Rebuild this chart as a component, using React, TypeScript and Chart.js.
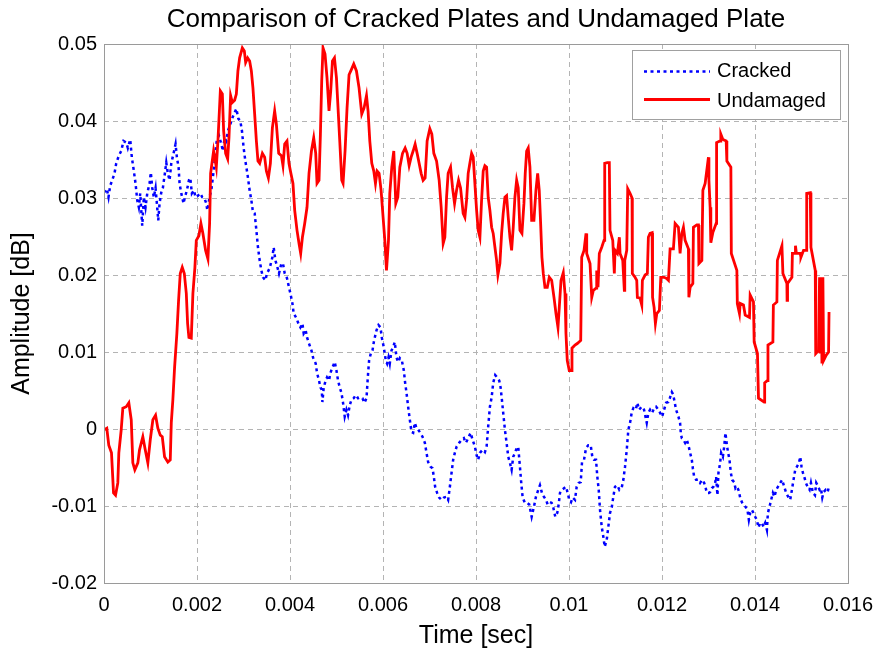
import React, { useEffect, useRef } from "react";
import { Chart, registerables } from "chart.js";

Chart.register(...registerables);

const chartTitle = "Comparison of Cracked Plates and Undamaged Plate";
const xAxisTitle = "Time [sec]";
const yAxisTitle = "Amplitude [dB]";
const seriesNames = ["Cracked", "Undamaged"];
const xTickLabels = ["0", "0.002", "0.004", "0.006", "0.008", "0.01", "0.012", "0.014", "0.016"];
const yTickLabels = ["-0.02", "-0.01", "0", "0.01", "0.02", "0.03", "0.04", "0.05"];

// [time (s), amplitude]
const crackedData: [number, number][] = [
  [0, 0.0307], [0.00006, 0.0312], [0.000097, 0.0301], [0.000133, 0.0316], [0.000177, 0.0323],
  [0.000226, 0.0332], [0.000263, 0.0345], [0.000319, 0.0355], [0.00037, 0.0361], [0.00042, 0.0374],
  [0.000478, 0.0372], [0.000512, 0.0365], [0.000564, 0.0376], [0.000598, 0.0353], [0.000635, 0.0338],
  [0.000678, 0.0319], [0.000715, 0.0297], [0.000749, 0.0288], [0.000779, 0.0306], [0.000822, 0.0264],
  [0.000857, 0.0301], [0.000893, 0.0288], [0.00093, 0.0306], [0.00098, 0.0319], [0.001007, 0.0333],
  [0.001038, 0.0313], [0.001072, 0.0301], [0.001109, 0.0313], [0.001137, 0.0293], [0.001167, 0.0271],
  [0.001195, 0.0293], [0.001231, 0.0307], [0.001266, 0.0313], [0.001309, 0.0332], [0.001339, 0.0346],
  [0.001373, 0.0332], [0.00141, 0.0323], [0.001447, 0.0345], [0.001496, 0.0358], [0.001539, 0.037],
  [0.001567, 0.0353], [0.001604, 0.034], [0.001625, 0.0319], [0.001662, 0.0306], [0.001711, 0.0293],
  [0.001739, 0.0301], [0.001783, 0.031], [0.001826, 0.0323], [0.001856, 0.0326], [0.00189, 0.0306],
  [0.001933, 0.031], [0.00197, 0.0301], [0.002019, 0.0303], [0.002071, 0.0306], [0.002114, 0.0301],
  [0.002157, 0.03], [0.0022, 0.0293], [0.002222, 0.0284], [0.002271, 0.0301], [0.002314, 0.0313],
  [0.002357, 0.0335], [0.0024, 0.0361], [0.002428, 0.0376], [0.002471, 0.0381], [0.002523, 0.037],
  [0.002558, 0.0361], [0.002594, 0.0378], [0.002631, 0.0374], [0.002665, 0.0387], [0.002717, 0.0396],
  [0.00276, 0.0404], [0.002809, 0.0411], [0.002846, 0.0416], [0.002889, 0.0403], [0.002932, 0.04],
  [0.002967, 0.0387], [0.003003, 0.0365], [0.00304, 0.0348], [0.003083, 0.0332], [0.003132, 0.031],
  [0.003169, 0.0297], [0.003203, 0.0282], [0.00324, 0.028], [0.003277, 0.0258], [0.003311, 0.0236],
  [0.003348, 0.0219], [0.003384, 0.0206], [0.003419, 0.0197], [0.00347, 0.0193], [0.003505, 0.0202],
  [0.003563, 0.0209], [0.003621, 0.0223], [0.003649, 0.0236], [0.003686, 0.0219], [0.003729, 0.021],
  [0.003763, 0.0202], [0.003815, 0.0215], [0.003849, 0.0215], [0.003886, 0.0202], [0.003935, 0.0196],
  [0.003978, 0.0184], [0.004009, 0.0176], [0.004052, 0.0163], [0.00408, 0.015], [0.004138, 0.0144],
  [0.004181, 0.0137], [0.004224, 0.0132], [0.004267, 0.0137], [0.004295, 0.0124], [0.004338, 0.0128],
  [0.004366, 0.0119], [0.004409, 0.0111], [0.004461, 0.0102], [0.004495, 0.0093], [0.004553, 0.0085],
  [0.004581, 0.0073], [0.004624, 0.0063], [0.004654, 0.0054], [0.004682, 0.0051], [0.004697, 0.0035],
  [0.004725, 0.0054], [0.004768, 0.0063], [0.004796, 0.0067], [0.004839, 0.0063], [0.00487, 0.0073],
  [0.004913, 0.008], [0.004962, 0.0087], [0.004999, 0.0076], [0.005033, 0.0063], [0.00507, 0.0054],
  [0.005106, 0.0047], [0.005141, 0.0034], [0.005177, 0.0016], [0.005214, 0.0025], [0.005248, 0.0018],
  [0.005285, 0.0031], [0.005322, 0.0038], [0.005371, 0.004], [0.005414, 0.0044], [0.005464, 0.004],
  [0.005515, 0.0041], [0.005558, 0.004], [0.005602, 0.0034], [0.005645, 0.004], [0.005673, 0.0067],
  [0.005701, 0.0089], [0.005737, 0.0098], [0.005774, 0.0102], [0.005808, 0.0115], [0.00586, 0.0128],
  [0.005903, 0.0135], [0.005946, 0.0132], [0.005974, 0.0119], [0.006017, 0.0106], [0.00606, 0.0089],
  [0.006088, 0.0085], [0.006118, 0.0093], [0.006146, 0.0085], [0.006183, 0.0102], [0.006217, 0.0106],
  [0.006254, 0.0113], [0.00629, 0.0093], [0.006325, 0.0087], [0.006362, 0.0092], [0.006405, 0.0089],
  [0.006448, 0.0076], [0.006476, 0.006], [0.006506, 0.0047], [0.00654, 0.0029], [0.006577, 0.0012],
  [0.006613, -0.0004], [0.006648, -0.0005], [0.006684, 0.0008], [0.006721, 0.0001], [0.006755, -0.0001],
  [0.006792, -0.0004], [0.00685, -0.001], [0.0069, -0.0018], [0.006936, -0.0031], [0.006971, -0.0043],
  [0.007022, -0.0049], [0.007065, -0.0051], [0.007093, -0.0062], [0.007121, -0.0075], [0.007164, -0.0083],
  [0.007208, -0.0089], [0.007259, -0.0092], [0.007309, -0.0089], [0.007367, -0.0088], [0.007401, -0.0092],
  [0.007438, -0.0075], [0.007474, -0.0057], [0.007509, -0.004], [0.007545, -0.0031], [0.007582, -0.0023],
  [0.007638, -0.0018], [0.00769, -0.0014], [0.007739, -0.0012], [0.007782, -0.0018], [0.007832, -0.0012],
  [0.007884, -0.0005], [0.007927, -0.0014], [0.007976, -0.0023], [0.008013, -0.0034], [0.008047, -0.004],
  [0.008084, -0.0031], [0.008142, -0.0027], [0.008191, -0.003], [0.008228, -0.0023], [0.008262, 0.0003],
  [0.008299, 0.0029], [0.008336, 0.0041], [0.00837, 0.006], [0.008413, 0.007], [0.008456, 0.0067],
  [0.008499, 0.0063], [0.008529, 0.0054], [0.008557, 0.0038], [0.008585, 0.0021], [0.008622, -0.0001],
  [0.008658, -0.0018], [0.008693, -0.0036], [0.00873, -0.0044], [0.008766, -0.0053], [0.008801, -0.0036],
  [0.008837, -0.0031], [0.008874, -0.0025], [0.008908, -0.0023], [0.008945, -0.0049], [0.008973, -0.007],
  [0.009003, -0.0089], [0.009052, -0.0096], [0.009102, -0.0096], [0.009145, -0.0098], [0.009197, -0.0114],
  [0.009246, -0.0101], [0.009289, -0.0088], [0.009339, -0.0079], [0.009375, -0.0073], [0.009418, -0.0083],
  [0.009461, -0.0088], [0.009505, -0.0092], [0.009541, -0.0098], [0.009591, -0.0095], [0.009627, -0.0096],
  [0.009662, -0.0102], [0.009705, -0.0114], [0.009748, -0.0109], [0.009778, -0.0098], [0.009806, -0.0083],
  [0.009849, -0.0079], [0.009892, -0.0077], [0.009935, -0.0075], [0.009972, -0.0083], [0.010006, -0.0092],
  [0.010043, -0.0095], [0.010079, -0.0089], [0.010129, -0.0092], [0.010165, -0.0075], [0.010208, -0.007],
  [0.010252, -0.0069], [0.01028, -0.0043], [0.010323, -0.004], [0.010366, -0.0025], [0.010415, -0.0021],
  [0.010467, -0.0021], [0.010501, -0.0036], [0.010538, -0.004], [0.010581, -0.004], [0.010609, -0.0062],
  [0.010639, -0.0079], [0.010667, -0.0105], [0.010704, -0.0127], [0.010738, -0.014], [0.010768, -0.0153],
  [0.010811, -0.0144], [0.010846, -0.0127], [0.010882, -0.0109], [0.010919, -0.0102], [0.010953, -0.0088],
  [0.01099, -0.0075], [0.01104, -0.0073], [0.011083, -0.0079], [0.011134, -0.0076], [0.011169, -0.0066],
  [0.011205, -0.0049], [0.011242, -0.0027], [0.011276, -0.0001], [0.011313, 0.0008], [0.01135, 0.0022],
  [0.011384, 0.0027], [0.011436, 0.0025], [0.01147, 0.0034], [0.011507, 0.0025], [0.011565, 0.0029],
  [0.011614, 0.0025], [0.011672, 0.0008], [0.011707, 0.0021], [0.011743, 0.0025], [0.011787, 0.0021],
  [0.01183, 0.0027], [0.011873, 0.0029], [0.011922, 0.0025], [0.011959, 0.0021], [0.012002, 0.0016],
  [0.012045, 0.0025], [0.012088, 0.0034], [0.012138, 0.0035], [0.012174, 0.0041], [0.012211, 0.0048],
  [0.012239, 0.0045], [0.012275, 0.0034], [0.012303, 0.0025], [0.012353, 0.0016], [0.012389, 0.0008],
  [0.012404, -0.0005], [0.012426, -0.0012], [0.012461, -0.0014], [0.012497, -0.0018], [0.012534, -0.0014],
  [0.012568, -0.0021], [0.012605, -0.0031], [0.012641, -0.004], [0.012663, -0.0051], [0.012691, -0.0062],
  [0.012734, -0.0066], [0.012784, -0.0066], [0.01282, -0.007], [0.012863, -0.0066], [0.012906, -0.007],
  [0.012934, -0.0075], [0.012964, -0.0083], [0.013007, -0.0083], [0.013035, -0.0082], [0.013072, -0.0077],
  [0.013106, -0.0075], [0.013143, -0.007], [0.013164, -0.0062], [0.013192, -0.0086], [0.013214, -0.0057],
  [0.01325, -0.0044], [0.013272, -0.0031], [0.013309, -0.0036], [0.013337, -0.0023], [0.013365, -0.0005],
  [0.013395, -0.0021], [0.013423, -0.0031], [0.013451, -0.004], [0.013481, -0.0057], [0.013509, -0.0066],
  [0.013552, -0.0069], [0.01358, -0.0077], [0.01361, -0.0075], [0.013644, -0.0079], [0.013681, -0.0089],
  [0.013718, -0.0095], [0.013752, -0.0098], [0.013795, -0.0101], [0.013838, -0.0105], [0.013868, -0.0118],
  [0.013896, -0.0109], [0.013932, -0.0105], [0.013967, -0.0109], [0.014004, -0.0114], [0.01404, -0.0118],
  [0.014075, -0.0128], [0.014111, -0.0122], [0.014148, -0.0122], [0.014183, -0.0127], [0.014219, -0.0122],
  [0.014256, -0.0131], [0.014277, -0.0109], [0.014312, -0.0101], [0.014348, -0.0092], [0.014385, -0.0083],
  [0.014419, -0.0088], [0.014456, -0.0079], [0.014493, -0.0075], [0.014542, -0.007], [0.014585, -0.0066],
  [0.014628, -0.0075], [0.014671, -0.0083], [0.014714, -0.0088], [0.014757, -0.0092], [0.014794, -0.0079],
  [0.014828, -0.0066], [0.014865, -0.0053], [0.014902, -0.0049], [0.014945, -0.0044], [0.014973, -0.0036],
  [0.015001, -0.0049], [0.015031, -0.0057], [0.015059, -0.0062], [0.015095, -0.007], [0.01513, -0.0075],
  [0.015173, -0.0079], [0.015203, -0.007], [0.015246, -0.0083], [0.015289, -0.0086], [0.015317, -0.007],
  [0.01536, -0.0075], [0.015388, -0.0079], [0.015418, -0.0077], [0.015447, -0.0089], [0.015475, -0.0082],
  [0.015518, -0.0079], [0.015561, -0.0082], [0.015591, -0.0075],
];

const undamagedData: [number, number][] = [
  [0, -0.0001], [0.00006, 0.0001], [0.000103, -0.0021], [0.000161, -0.0031], [0.000205, -0.0083],
  [0.000248, -0.0086], [0.000297, -0.007], [0.000319, -0.0031], [0.00037, -0.0001], [0.000405, 0.0027],
  [0.000478, 0.0029], [0.000534, 0.0034], [0.000586, 0.0012], [0.00062, -0.0044], [0.000663, -0.0053],
  [0.000728, -0.0044], [0.000764, -0.0027], [0.000835, -0.001], [0.000887, -0.0027], [0.000943, -0.0044],
  [0.000995, -0.0014], [0.001051, 0.0012], [0.001109, 0.0018], [0.001158, 0.0001], [0.00121, -0.0008],
  [0.001253, -0.001], [0.001302, -0.0036], [0.001373, -0.0043], [0.001425, -0.004], [0.001447, 0.0008],
  [0.001481, 0.0038], [0.001518, 0.008], [0.001567, 0.0124], [0.001604, 0.0167], [0.00164, 0.0202],
  [0.001683, 0.021], [0.001727, 0.0202], [0.00177, 0.0176], [0.001798, 0.0137], [0.001826, 0.0119],
  [0.001877, 0.0118], [0.001912, 0.0176], [0.001955, 0.021], [0.001985, 0.0245], [0.002041, 0.0251],
  [0.002084, 0.0267], [0.002127, 0.0254], [0.002185, 0.0232], [0.002235, 0.0221], [0.002271, 0.0267],
  [0.002293, 0.0332], [0.002357, 0.0361], [0.002415, 0.034], [0.00245, 0.0374], [0.002502, 0.0439],
  [0.002545, 0.0435], [0.002573, 0.0387], [0.002616, 0.0358], [0.002659, 0.0351], [0.002687, 0.0378],
  [0.002723, 0.0433], [0.00276, 0.0424], [0.002809, 0.0427], [0.002846, 0.0435], [0.00288, 0.0465],
  [0.002917, 0.0482], [0.002975, 0.0495], [0.003018, 0.0491], [0.003046, 0.0476], [0.003089, 0.0482],
  [0.003132, 0.0478], [0.003169, 0.0465], [0.003203, 0.0443], [0.00324, 0.0409], [0.003277, 0.0374],
  [0.003311, 0.0348], [0.003348, 0.0345], [0.003406, 0.0358], [0.003455, 0.0353], [0.003492, 0.0335],
  [0.003535, 0.0326], [0.003578, 0.0345], [0.003621, 0.0391], [0.00367, 0.0413], [0.003707, 0.0396],
  [0.003757, 0.0358], [0.003815, 0.0355], [0.003849, 0.0342], [0.003886, 0.037], [0.003935, 0.0374],
  [0.003978, 0.0345], [0.004009, 0.0335], [0.004064, 0.0319], [0.004101, 0.0284], [0.004151, 0.0258],
  [0.004194, 0.0241], [0.00423, 0.0228], [0.004267, 0.0249], [0.004316, 0.0267], [0.004366, 0.0288],
  [0.004409, 0.0332], [0.004461, 0.0361], [0.00451, 0.0378], [0.004553, 0.0358], [0.004581, 0.0319],
  [0.004624, 0.0323], [0.004654, 0.0383], [0.004682, 0.0452], [0.00471, 0.0495], [0.004753, 0.0487],
  [0.004796, 0.0456], [0.004839, 0.0413], [0.004876, 0.0439], [0.004913, 0.0478], [0.004956, 0.0482],
  [0.004999, 0.0456], [0.005033, 0.0417], [0.00507, 0.0374], [0.005113, 0.0323], [0.005141, 0.0319],
  [0.005184, 0.0361], [0.005227, 0.0417], [0.00527, 0.046], [0.005322, 0.0467], [0.005371, 0.0474],
  [0.005429, 0.0465], [0.005485, 0.0443], [0.005543, 0.0409], [0.005593, 0.0417], [0.005645, 0.0433],
  [0.005679, 0.0413], [0.005716, 0.0374], [0.005759, 0.0345], [0.005802, 0.0335], [0.005838, 0.0319],
  [0.005873, 0.0335], [0.005916, 0.0332], [0.005959, 0.031], [0.006002, 0.0275], [0.006039, 0.0245],
  [0.006075, 0.0206], [0.006118, 0.0245], [0.006146, 0.0306], [0.006189, 0.034], [0.006232, 0.0361],
  [0.006275, 0.0293], [0.006318, 0.0301], [0.006362, 0.034], [0.00642, 0.0358], [0.006476, 0.0365],
  [0.006519, 0.0358], [0.006562, 0.0342], [0.006605, 0.0353], [0.006648, 0.0361], [0.006691, 0.037],
  [0.006734, 0.0358], [0.006777, 0.0345], [0.00682, 0.0332], [0.006863, 0.0323], [0.006906, 0.0326],
  [0.006949, 0.0374], [0.007007, 0.039], [0.00705, 0.0383], [0.007093, 0.0358], [0.007152, 0.0348],
  [0.007208, 0.0323], [0.007251, 0.0288], [0.007294, 0.0241], [0.00733, 0.0249], [0.007367, 0.0301],
  [0.007401, 0.0332], [0.007453, 0.034], [0.007496, 0.0313], [0.007539, 0.0293], [0.007582, 0.031],
  [0.007625, 0.0323], [0.007668, 0.0313], [0.007724, 0.028], [0.007761, 0.0275], [0.007797, 0.0297],
  [0.007832, 0.0332], [0.007868, 0.0345], [0.007905, 0.0358], [0.00794, 0.0353], [0.007976, 0.0319],
  [0.008013, 0.0284], [0.008047, 0.0258], [0.008084, 0.0249], [0.00812, 0.0297], [0.008155, 0.0335],
  [0.008191, 0.0342], [0.008228, 0.034], [0.008262, 0.0301], [0.008299, 0.0284], [0.008336, 0.0262],
  [0.00837, 0.0254], [0.008407, 0.0236], [0.008443, 0.0219], [0.008471, 0.02], [0.008514, 0.0215],
  [0.008551, 0.0254], [0.008585, 0.028], [0.008622, 0.0301], [0.008658, 0.0303], [0.008693, 0.0275],
  [0.00873, 0.0249], [0.008766, 0.0232], [0.008801, 0.0262], [0.008837, 0.0301], [0.008874, 0.0323],
  [0.008908, 0.0313], [0.008945, 0.0258], [0.008988, 0.0254], [0.009031, 0.0293], [0.009059, 0.0332],
  [0.009089, 0.0361], [0.009123, 0.0365], [0.00916, 0.034], [0.009197, 0.0271], [0.009246, 0.0271],
  [0.009289, 0.031], [0.009326, 0.0332], [0.00936, 0.031], [0.00939, 0.0267], [0.009418, 0.0223],
  [0.009447, 0.0202], [0.009483, 0.0184], [0.009533, 0.0184], [0.009576, 0.0197], [0.009627, 0.0193],
  [0.009677, 0.0171], [0.00972, 0.015], [0.009763, 0.0132], [0.009791, 0.0158], [0.009828, 0.0193],
  [0.009877, 0.0203], [0.009914, 0.0176], [0.009935, 0.0124], [0.009963, 0.0089], [0.010006, 0.0076],
  [0.010058, 0.0076], [0.010064, 0.0105], [0.010129, 0.0109], [0.010178, 0.0111], [0.010252, 0.0115],
  [0.010273, 0.0223], [0.010323, 0.0232], [0.010366, 0.0254], [0.010381, 0.0228], [0.010452, 0.0215],
  [0.010489, 0.0171], [0.010523, 0.018], [0.010581, 0.0183], [0.010596, 0.0206], [0.010624, 0.0184],
  [0.010652, 0.0228], [0.010704, 0.0236], [0.010753, 0.0245], [0.010768, 0.0345], [0.010824, 0.0346],
  [0.010867, 0.0346], [0.010882, 0.0258], [0.010941, 0.0245], [0.010975, 0.0202], [0.01099, 0.0232],
  [0.01104, 0.0228], [0.011083, 0.0249], [0.011098, 0.0228], [0.011156, 0.0219], [0.01119, 0.018],
  [0.011199, 0.0219], [0.011242, 0.0232], [0.011263, 0.0312], [0.011313, 0.0306], [0.011356, 0.03],
  [0.011362, 0.0202], [0.01142, 0.0197], [0.011457, 0.0193], [0.01147, 0.0171], [0.011528, 0.017],
  [0.011565, 0.0161], [0.011578, 0.0193], [0.011636, 0.02], [0.011685, 0.0202], [0.011707, 0.0249],
  [0.011743, 0.0254], [0.011787, 0.0255], [0.011797, 0.0171], [0.01183, 0.0158], [0.011858, 0.0137],
  [0.011888, 0.015], [0.011944, 0.0154], [0.011974, 0.0197], [0.012045, 0.0197], [0.012088, 0.0196],
  [0.012138, 0.0193], [0.012174, 0.0234], [0.012245, 0.0234], [0.012282, 0.0267], [0.012353, 0.0262],
  [0.012389, 0.0228], [0.012426, 0.0254], [0.012461, 0.0262], [0.012497, 0.0245], [0.012568, 0.0234],
  [0.012578, 0.0171], [0.012605, 0.0184], [0.012663, 0.0189], [0.012676, 0.0262], [0.012749, 0.0265],
  [0.012784, 0.0265], [0.012794, 0.0215], [0.012857, 0.0219], [0.012879, 0.031], [0.012928, 0.0319],
  [0.012999, 0.0353], [0.013009, 0.0323], [0.013035, 0.0288], [0.01305, 0.0242], [0.013093, 0.0255],
  [0.013164, 0.0267], [0.013174, 0.0372], [0.01325, 0.0374], [0.013265, 0.0383], [0.013309, 0.0376],
  [0.01338, 0.0374], [0.013395, 0.0348], [0.013481, 0.034], [0.013491, 0.0228], [0.01361, 0.0206],
  [0.01362, 0.0163], [0.013666, 0.015], [0.013681, 0.0163], [0.013752, 0.0161], [0.013789, 0.0148],
  [0.013881, 0.0145], [0.013896, 0.0174], [0.013967, 0.0165], [0.013982, 0.0113], [0.014053, 0.0098],
  [0.014075, 0.004], [0.014198, 0.0035], [0.014208, 0.006], [0.014269, 0.0063], [0.014279, 0.0109],
  [0.014385, 0.0113], [0.014395, 0.0161], [0.014471, 0.0165], [0.014481, 0.0219], [0.014579, 0.0238],
  [0.0146, 0.0202], [0.014686, 0.0189], [0.01469, 0.0167], [0.0147, 0.0189], [0.014794, 0.0197],
  [0.014804, 0.0228], [0.014865, 0.0228], [0.01487, 0.0238], [0.01489, 0.0228], [0.014973, 0.0228],
  [0.014988, 0.0223], [0.015044, 0.0232], [0.015102, 0.0232], [0.015112, 0.0306], [0.015188, 0.0307],
  [0.015203, 0.0236], [0.015296, 0.0206], [0.015306, 0.0098], [0.015367, 0.0102], [0.015388, 0.0197],
  [0.0154, 0.0098], [0.01542, 0.0197], [0.01544, 0.0085], [0.01546, 0.0197], [0.015475, 0.0089],
  [0.015532, 0.0096], [0.015582, 0.01], [0.015592, 0.0152],
];

const FONT = "'Liberation Sans', Arial, Helvetica, sans-serif";
const CRACKED_COLOR = "#0000ff";
const UNDAMAGED_COLOR = "#ff0000";
const CRACKED_DASH = [3, 3.5];

const framePlugin = {
  id: "frameAndLegend",
  afterDraw(chart: any) {
    const { ctx, chartArea } = chart;
    const { left, top, right, bottom } = chartArea;
    ctx.save();

    // title, centred over the plot area
    ctx.fillStyle = "#000000";
    ctx.font = `26px ${FONT}`;
    ctx.textAlign = "center";
    ctx.textBaseline = "alphabetic";
    ctx.fillText(chartTitle, (left + right) / 2, top - 17);

    // axes box
    ctx.strokeStyle = "#9a9a9a";
    ctx.lineWidth = 1;
    ctx.setLineDash([]);
    ctx.strokeRect(Math.round(left) + 0.5, Math.round(top) + 0.5, Math.round(right - left), Math.round(bottom - top));

    // legend box
    const bw = 208;
    const bh = 69;
    const bx = Math.round(right) - 216;
    const by = Math.round(top) + 6;
    ctx.fillStyle = "#ffffff";
    ctx.fillRect(bx, by, bw, bh);
    ctx.strokeStyle = "#a0a0a0";
    ctx.strokeRect(bx + 0.5, by + 0.5, bw, bh);

    const lineX0 = bx + 12;
    const lineX1 = bx + 78;
    const row1 = by + 21.5;
    const row2 = by + 49.5;
    ctx.lineWidth = 2.5;
    ctx.strokeStyle = CRACKED_COLOR;
    ctx.setLineDash(CRACKED_DASH);
    ctx.beginPath();
    ctx.moveTo(lineX0, row1);
    ctx.lineTo(lineX1, row1);
    ctx.stroke();
    ctx.setLineDash([]);
    ctx.strokeStyle = UNDAMAGED_COLOR;
    ctx.lineWidth = 2.8;
    ctx.beginPath();
    ctx.moveTo(lineX0, row2);
    ctx.lineTo(lineX1, row2);
    ctx.stroke();

    ctx.fillStyle = "#000000";
    ctx.font = `20px ${FONT}`;
    ctx.textBaseline = "alphabetic";
    ctx.textAlign = "left";
    ctx.fillText(seriesNames[0], bx + 85, by + 27);
    ctx.fillText(seriesNames[1], bx + 85, by + 57);
    ctx.restore();
  },
};

export default function App() {
  const canvasRef = useRef<HTMLCanvasElement | null>(null);

  useEffect(() => {
    document.body.style.margin = "0";
    const canvas = canvasRef.current;
    if (!canvas) return;
    const chart = new Chart(canvas, {
      type: "line",
      data: {
        datasets: [
          {
            label: seriesNames[0],
            data: crackedData.map(([x, y]) => ({ x, y })),
            borderColor: CRACKED_COLOR,
            borderWidth: 2.5,
            borderDash: CRACKED_DASH,
            pointRadius: 0,
            tension: 0,
            fill: false,
            order: 1,
          },
          {
            label: seriesNames[1],
            data: undamagedData.map(([x, y]) => ({ x, y })),
            borderColor: UNDAMAGED_COLOR,
            borderWidth: 2.8,
            pointRadius: 0,
            tension: 0,
            fill: false,
            order: 0,
          },
        ],
      },
      options: {
        responsive: false,
        animation: false,
        devicePixelRatio: 1,
        layout: { padding: { left: 0, right: 27, top: 44, bottom: 0 } },
        plugins: {
          legend: { display: false },
          tooltip: { enabled: false },
          title: { display: false },
        },
        scales: {
          x: {
            type: "linear",
            min: 0,
            max: 0.016,
            afterFit: (scale: any) => {
              scale.height = 69;
              scale.paddingRight = 0;
              scale.paddingLeft = 0;
            },
            ticks: {
              stepSize: 0.002,
              autoSkip: false,
              maxRotation: 0,
              padding: 10,
              color: "#000000",
              font: { family: FONT, size: 20 },
              callback: (_v: any, i: number) => xTickLabels[i],
            },
            grid: { color: "#b4b4b4", lineWidth: 1, drawTicks: false },
            border: { display: false, dash: [5, 4] },
            title: {
              display: true,
              text: xAxisTitle,
              color: "#000000",
              font: { family: FONT, size: 25 },
              padding: { top: 0, bottom: 1 },
            },
          },
          y: {
            type: "linear",
            min: -0.02,
            max: 0.05,
            afterFit: (scale: any) => {
              scale.width = 104;
              scale.paddingTop = 0;
              scale.paddingBottom = 0;
            },
            ticks: {
              stepSize: 0.01,
              autoSkip: false,
              padding: 7,
              color: "#000000",
              font: { family: FONT, size: 20 },
              callback: (_v: any, i: number) => yTickLabels[i],
            },
            grid: { color: "#b4b4b4", lineWidth: 1, drawTicks: false },
            border: { display: false, dash: [5, 4] },
            title: {
              display: true,
              text: yAxisTitle,
              color: "#000000",
              font: { family: FONT, size: 25 },
              padding: { top: 7, bottom: 0 },
            },
          },
        },
      },
      plugins: [framePlugin],
    });
    return () => chart.destroy();
  }, []);

  return (
    <div style={{ position: "absolute", left: 0, top: 0, width: 875, height: 652, background: "#ffffff" }}>
      <canvas ref={canvasRef} width={875} height={652} />
    </div>
  );
}
